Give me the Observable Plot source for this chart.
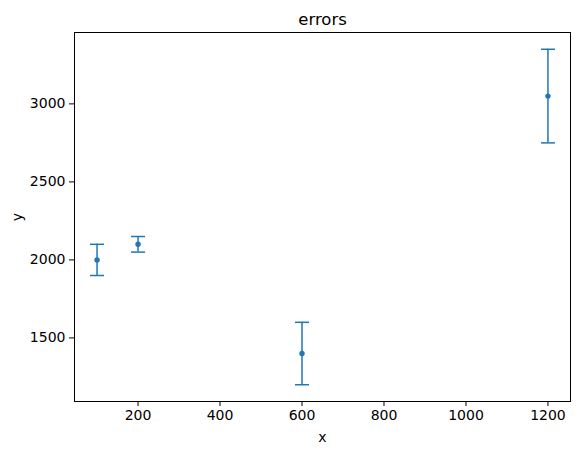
<!DOCTYPE html>
<html>
<head>
<meta charset="utf-8">
<script src="https://cdn.jsdelivr.net/npm/d3@7"></script>
<script src="https://cdn.jsdelivr.net/npm/@observablehq/plot@0.6"></script>
<style>
  body { margin: 0; background: #fff; }
</style>
</head>
<body>
<div id="chart"></div>
<script>
const xs = [100, 200, 600, 1200];
const ys = [2000, 2100, 1400, 3050];
const errs = [100, 50, 200, 300];
const xTicks = [200, 400, 600, 800, 1000, 1200];
const yTicks = [1500, 2000, 2500, 3000];
const titleText = "errors";

const data = xs.map((x, i) => ({x, y: ys[i], e: errs[i]}));
const color = "#1f77b4";
const cap = {draw(ctx, size) { ctx.moveTo(-7, 0); ctx.lineTo(7, 0); }};

const chart = Plot.plot({
  width: 580,
  height: 455,
  marginLeft: 74,
  marginRight: 10,
  marginTop: 32,
  marginBottom: 54,
  style: {fontFamily: "DejaVu Sans", fontSize: "14px", color: "#000", background: "#fff"},
  x: {domain: [45, 1255], ticks: xTicks},
  y: {domain: [1092.5, 3457.5], ticks: yTicks},
  marks: [
    Plot.frame({stroke: "#000", strokeWidth: 1}),
    Plot.axisX({ticks: xTicks, tickSize: 5, tickPadding: 4, tickFormat: d => String(d), label: "x", labelAnchor: "center", labelArrow: "none", labelOffset: 40}),
    Plot.axisY({ticks: yTicks, tickSize: 5, tickPadding: 4, tickFormat: d => String(d), label: "y", labelAnchor: "center", labelArrow: "none", labelOffset: 62}),
    Plot.ruleX(data, {x: "x", y1: d => d.y - d.e, y2: d => d.y + d.e, stroke: color, strokeWidth: 1.5}),
    Plot.dot(data, {x: "x", y: d => d.y - d.e, symbol: cap, stroke: color, strokeWidth: 1.5}),
    Plot.dot(data, {x: "x", y: d => d.y + d.e, symbol: cap, stroke: color, strokeWidth: 1.5}),
    Plot.dot(data, {x: "x", y: "y", r: 2.7, fill: color}),
    Plot.text([titleText], {frameAnchor: "top", fontSize: 16.5, fill: "#000", lineAnchor: "bottom", text: d => d, dy: -8})
  ]
});
document.getElementById("chart").appendChild(chart);
</script>
</body>
</html>
